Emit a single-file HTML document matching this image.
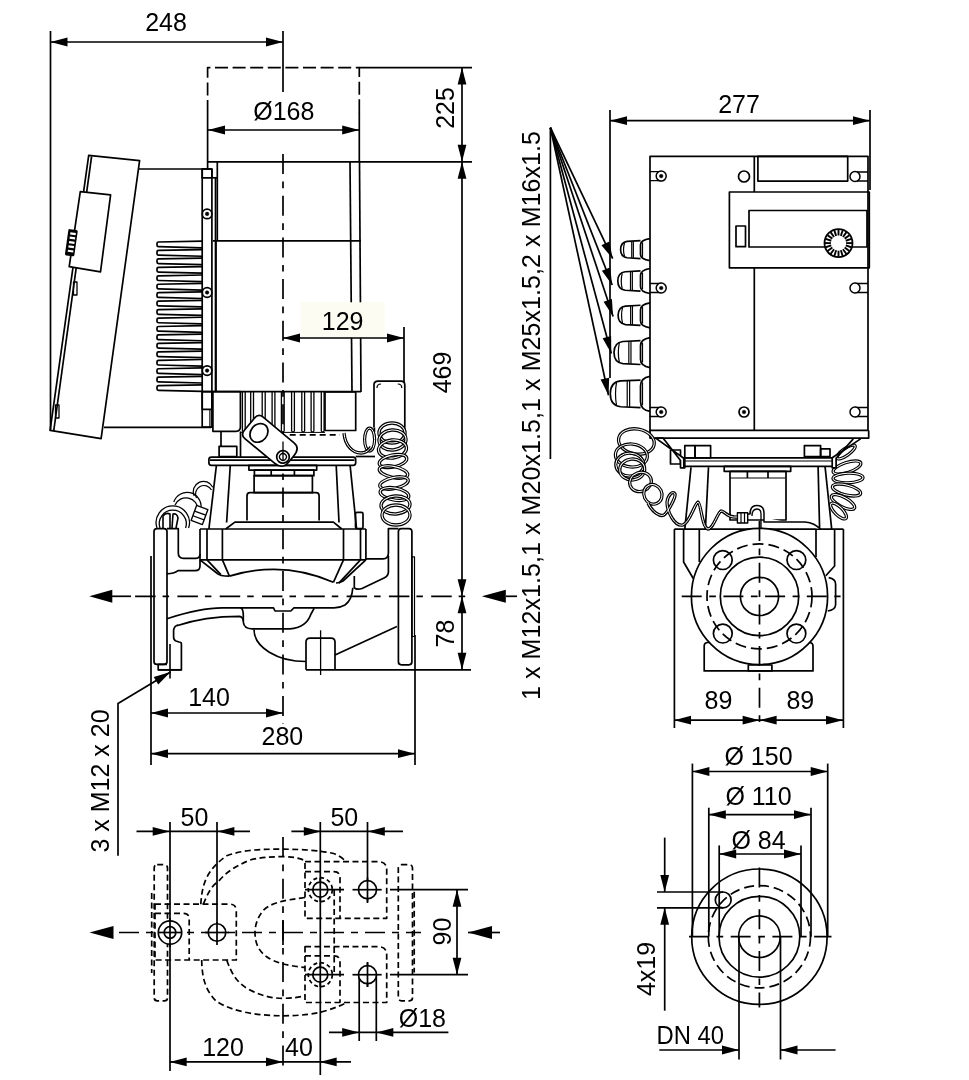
<!DOCTYPE html>
<html><head><meta charset="utf-8"><style>
html,body{margin:0;padding:0;background:#fff;}
svg{display:block;will-change:transform;}
text{font-family:"Liberation Sans",sans-serif;fill:#000;stroke:none;}
</style></head><body>
<svg width="969" height="1080" viewBox="0 0 969 1080">
<rect x="0" y="0" width="969" height="1080" fill="#fff"/>
<g fill="none" stroke="#000" stroke-width="1.7" stroke-linejoin="round">
<line x1="50.5" y1="31" x2="50.5" y2="430.4"/>
<line x1="50.5" y1="42" x2="283" y2="42"/>
<polygon points="50.50,42.00 67.50,37.60 67.50,46.40" fill="#000" stroke="none"/>
<polygon points="283.00,42.00 266.00,46.40 266.00,37.60" fill="#000" stroke="none"/>
<text x="166" y="31" font-size="25" text-anchor="middle">248</text>
<line x1="283" y1="31" x2="283" y2="92"/>
<line x1="283" y1="154" x2="283" y2="724" stroke-dasharray="20 7.5 6.7 7.5"/>
<polyline points="207.6,113 207.6,67.6 359.3,67.6 359.3,113" stroke-dasharray="13 4.6"/>
<line x1="207.6" y1="113" x2="207.6" y2="169"/>
<line x1="359.3" y1="112" x2="359.3" y2="161.8"/>
<line x1="359.2" y1="67.6" x2="472" y2="67.6"/>
<line x1="208" y1="130" x2="359.2" y2="130"/>
<polygon points="208.00,130.00 225.00,125.60 225.00,134.40" fill="#000" stroke="none"/>
<polygon points="359.20,130.00 342.20,134.40 342.20,125.60" fill="#000" stroke="none"/>
<text x="283.8" y="120" font-size="25" text-anchor="middle">Ø168</text>
<line x1="208" y1="161.8" x2="472" y2="161.8"/>
<line x1="462" y1="67.6" x2="462" y2="669.8"/>
<polygon points="462.00,67.60 466.40,84.60 457.60,84.60" fill="#000" stroke="none"/>
<polygon points="462.00,161.80 457.60,144.80 466.40,144.80" fill="#000" stroke="none"/>
<polygon points="462.00,161.80 466.40,178.80 457.60,178.80" fill="#000" stroke="none"/>
<polygon points="462.00,596.30 457.60,579.30 466.40,579.30" fill="#000" stroke="none"/>
<polygon points="462.00,596.30 466.40,613.30 457.60,613.30" fill="#000" stroke="none"/>
<polygon points="462.00,669.80 457.60,652.80 466.40,652.80" fill="#000" stroke="none"/>
<text x="453.5" y="108" font-size="25" text-anchor="middle" transform="rotate(-90 453.5 108)">225</text>
<text x="451.3" y="372.5" font-size="25" text-anchor="middle" transform="rotate(-90 451.3 372.5)">469</text>
<text x="453.5" y="633.5" font-size="25" text-anchor="middle" transform="rotate(-90 453.5 633.5)">78</text>
<line x1="158.2" y1="669.8" x2="181.4" y2="669.8"/>
<line x1="306" y1="669.8" x2="471" y2="669.8"/>
<line x1="110" y1="596.3" x2="131" y2="596.3"/>
<line x1="131" y1="596.3" x2="471" y2="596.3" stroke-dasharray="20.5 7 6.5 8.3" stroke-dashoffset="38.2"/>
<polygon points="89.30,596.30 112.30,589.80 112.30,602.80" fill="#000" stroke="none"/>
<line x1="506" y1="596.3" x2="517" y2="596.3"/>
<polygon points="481.80,596.30 481.80,596.30 481.80,596.30" fill="#000" stroke="none"/>
<polygon points="481.80,596.30 505.80,589.80 505.80,602.80" fill="#000" stroke="none"/>
<line x1="151" y1="556" x2="151" y2="765"/>
<line x1="415" y1="635" x2="415" y2="765"/>
<line x1="151" y1="713" x2="283" y2="713"/>
<polygon points="151.00,713.00 168.00,708.60 168.00,717.40" fill="#000" stroke="none"/>
<polygon points="283.00,713.00 266.00,717.40 266.00,708.60" fill="#000" stroke="none"/>
<text x="209" y="706" font-size="25" text-anchor="middle">140</text>
<line x1="151" y1="753.7" x2="415" y2="753.7"/>
<polygon points="151.00,753.70 168.00,749.30 168.00,758.10" fill="#000" stroke="none"/>
<polygon points="415.00,753.70 398.00,758.10 398.00,749.30" fill="#000" stroke="none"/>
<text x="282.4" y="745" font-size="25" text-anchor="middle">280</text>
<polyline points="118,855.7 118,703.5 170.5,672"/>
<polygon points="170.50,672.00 158.26,684.59 153.69,677.07" fill="#000" stroke="none"/>
<text x="109" y="781" font-size="25" text-anchor="middle" transform="rotate(-90 109 781)">3 x M12 x 20</text>
<polygon points="88.7,155.4 139.6,160.7 101.1,438.7 50.1,430.4"/>
<line x1="91.6" y1="156.3" x2="53.7" y2="431"/>
<polygon points="80.3,191.7 110.6,194.8 100.5,271.9 69.2,266.7" fill="#fff"/>
<g transform="rotate(8 71.6 242.7)"><rect x="66.6" y="229.5" width="9.5" height="26.5" rx="1.5" fill="#000" stroke="none"/><rect x="69" y="232.5" width="5.5" height="2.2" fill="#fff" stroke="none"/><rect x="69" y="236.9" width="5.5" height="2.2" fill="#fff" stroke="none"/><rect x="69" y="241.3" width="5.5" height="2.2" fill="#fff" stroke="none"/><rect x="69" y="245.7" width="5.5" height="2.2" fill="#fff" stroke="none"/><rect x="69" y="250.1" width="5.5" height="2.2" fill="#fff" stroke="none"/></g>
<line x1="139" y1="169" x2="211" y2="169"/>
<line x1="104" y1="427.4" x2="211" y2="427.4"/>
<path d="M202,241.20 L158.5,242.00 Q157,242.00 157,243.50 L157,245.20 Q157,246.70 158.5,246.70 L202,247.80"/>
<path d="M202,249.65 L158.5,250.45 Q157,250.45 157,251.95 L157,253.65 Q157,255.15 158.5,255.15 L202,256.25"/>
<path d="M202,258.10 L158.5,258.90 Q157,258.90 157,260.40 L157,262.10 Q157,263.60 158.5,263.60 L202,264.70"/>
<path d="M202,266.55 L158.5,267.35 Q157,267.35 157,268.85 L157,270.55 Q157,272.05 158.5,272.05 L202,273.15"/>
<path d="M202,275.00 L158.5,275.80 Q157,275.80 157,277.30 L157,279.00 Q157,280.50 158.5,280.50 L202,281.60"/>
<path d="M202,283.45 L158.5,284.25 Q157,284.25 157,285.75 L157,287.45 Q157,288.95 158.5,288.95 L202,290.05"/>
<path d="M202,291.90 L158.5,292.70 Q157,292.70 157,294.20 L157,295.90 Q157,297.40 158.5,297.40 L202,298.50"/>
<path d="M202,300.35 L158.5,301.15 Q157,301.15 157,302.65 L157,304.35 Q157,305.85 158.5,305.85 L202,306.95"/>
<path d="M202,308.80 L158.5,309.60 Q157,309.60 157,311.10 L157,312.80 Q157,314.30 158.5,314.30 L202,315.40"/>
<path d="M202,317.25 L158.5,318.05 Q157,318.05 157,319.55 L157,321.25 Q157,322.75 158.5,322.75 L202,323.85"/>
<path d="M202,325.70 L158.5,326.50 Q157,326.50 157,328.00 L157,329.70 Q157,331.20 158.5,331.20 L202,332.30"/>
<path d="M202,334.15 L158.5,334.95 Q157,334.95 157,336.45 L157,338.15 Q157,339.65 158.5,339.65 L202,340.75"/>
<path d="M202,342.60 L158.5,343.40 Q157,343.40 157,344.90 L157,346.60 Q157,348.10 158.5,348.10 L202,349.20"/>
<path d="M202,351.05 L158.5,351.85 Q157,351.85 157,353.35 L157,355.05 Q157,356.55 158.5,356.55 L202,357.65"/>
<path d="M202,359.50 L158.5,360.30 Q157,360.30 157,361.80 L157,363.50 Q157,365.00 158.5,365.00 L202,366.10"/>
<path d="M202,367.95 L158.5,368.75 Q157,368.75 157,370.25 L157,371.95 Q157,373.45 158.5,373.45 L202,374.55"/>
<path d="M202,376.40 L158.5,377.20 Q157,377.20 157,378.70 L157,380.40 Q157,381.90 158.5,381.90 L202,383.00"/>
<path d="M202,384.85 L158.5,385.65 Q157,385.65 157,387.15 L157,388.85 Q157,390.35 158.5,390.35 L202,391.45"/>
<rect x="202.2" y="169" width="9.700000000000017" height="258.2"/>
<rect x="202.2" y="169" width="9.700000000000017" height="8.800000000000011"/>
<line x1="215.5" y1="177.8" x2="215.5" y2="391.6"/>
<line x1="211.9" y1="177.8" x2="217.3" y2="177.8"/>
<rect x="202.2" y="391.6" width="9.700000000000017" height="17.799999999999955"/>
<line x1="209.9" y1="409.4" x2="209.9" y2="427.2" stroke-width="1.2"/>
<rect x="73.5" y="282" width="3.5" height="13" stroke-width="1.3"/>
<rect x="55.5" y="405" width="3.5" height="13" stroke-width="1.3"/>
<circle cx="207.1" cy="213.9" r="4.8" fill="#fff"/>
<circle cx="207.1" cy="213.9" r="1.8" stroke-width="0.5" fill="#000"/>
<circle cx="207.1" cy="292.5" r="4.8" fill="#fff"/>
<circle cx="207.1" cy="292.5" r="1.8" stroke-width="0.5" fill="#000"/>
<circle cx="207.1" cy="370.6" r="4.8" fill="#fff"/>
<circle cx="207.1" cy="370.6" r="1.8" stroke-width="0.5" fill="#000"/>
<line x1="217.3" y1="161.8" x2="217.3" y2="240.9"/>
<line x1="216" y1="240.9" x2="216" y2="391.6"/>
<line x1="350" y1="161.8" x2="352" y2="392"/>
<line x1="359.5" y1="161.8" x2="361" y2="392"/>
<line x1="213" y1="240.9" x2="361" y2="240.9"/>
<line x1="202.2" y1="391.6" x2="361" y2="391.6"/>
<rect x="301" y="302.3" width="84" height="35.5" fill="#fdfcf2" stroke="none"/>
<text x="342.6" y="329.6" font-size="25" text-anchor="middle">129</text>
<line x1="283" y1="338" x2="404" y2="338"/>
<polygon points="283.00,338.00 300.00,333.60 300.00,342.40" fill="#000" stroke="none"/>
<polygon points="404.00,338.00 387.00,342.40 387.00,333.60" fill="#000" stroke="none"/>
<line x1="404" y1="327" x2="404" y2="382"/>
<line x1="610" y1="110" x2="610" y2="378"/>
<line x1="870" y1="110" x2="870" y2="190"/>
<line x1="610" y1="120.7" x2="870" y2="120.7"/>
<polygon points="610.00,120.70 627.00,116.30 627.00,125.10" fill="#000" stroke="none"/>
<polygon points="870.00,120.70 853.00,125.10 853.00,116.30" fill="#000" stroke="none"/>
<text x="739" y="113" font-size="25" text-anchor="middle">277</text>
<rect x="650" y="156.3" width="218" height="274.09999999999997"/>
<polyline points="650,430.4 650,438.1 868.7,438.1 868.7,430.4"/>
<line x1="754.3" y1="156.3" x2="754.3" y2="192"/>
<line x1="754.3" y1="267.5" x2="754.3" y2="430.6"/>
<rect x="757.9" y="156.3" width="89.80000000000007" height="24.799999999999983"/>
<rect x="729.4" y="192" width="139.89999999999998" height="75.80000000000001"/>
<rect x="749" y="210.5" width="118" height="36.5"/>
<rect x="736" y="226" width="9.5" height="20.69999999999999"/>
<text x="540" y="700" font-size="25" text-anchor="start" textLength="569" lengthAdjust="spacing" transform="rotate(-90 540 700)">1 x M12x1.5,1 x M20x1.5,1 x M25x1.5,2 x M16x1.5</text>
<line x1="550.4" y1="127.7" x2="550.4" y2="459"/>
<line x1="550.4" y1="127.7" x2="612.7" y2="258.7"/>
<polygon points="612.70,258.70 601.43,245.24 609.37,241.46" fill="#000" stroke="none"/>
<line x1="550.4" y1="127.7" x2="612.2" y2="285"/>
<polygon points="612.20,285.00 601.89,270.79 610.08,267.57" fill="#000" stroke="none"/>
<line x1="550.4" y1="127.7" x2="613.1" y2="316.5"/>
<polygon points="613.10,316.50 603.57,301.75 611.92,298.98" fill="#000" stroke="none"/>
<line x1="550.4" y1="127.7" x2="611.3" y2="353.5"/>
<polygon points="611.30,353.50 602.62,338.23 611.12,335.94" fill="#000" stroke="none"/>
<line x1="550.4" y1="127.7" x2="608.5" y2="395.2"/>
<polygon points="608.50,395.20 600.59,379.52 609.19,377.65" fill="#000" stroke="none"/>
<line x1="674.4" y1="529.1" x2="674.4" y2="728"/>
<line x1="843.4" y1="529.1" x2="843.4" y2="728"/>
<line x1="674.4" y1="529.1" x2="843.4" y2="529.1"/>
<path d="M704.2,670.9 L704.2,646 Q704.2,642.5 708,642.5 L809,642.5 Q813,642.5 813,646 L813,670.9 Z"/>
<rect x="748.3" y="665" width="23.600000000000023" height="5.899999999999977"/>
<path d="M683.6,529.1 L683.6,562 L693.4,578.7"/>
<line x1="699.3" y1="529.1" x2="699.3" y2="562"/>
<line x1="816" y1="529.1" x2="816" y2="557"/>
<path d="M834.6,529.1 L834.6,566 L825.8,575.8 M828.7,577.7 Q835.6,579 835.6,584 L835.6,605 Q835,610 827.7,611"/>
<circle cx="759.5" cy="596.4" r="68.1" fill="#fff"/>
<circle cx="759.5" cy="596.4" r="52.5" stroke-dasharray="11 5"/>
<circle cx="759.5" cy="596.4" r="39.2"/>
<circle cx="759.5" cy="596.4" r="19.1"/>
<circle cx="722.8" cy="560.1" r="9.4"/>
<circle cx="796.4" cy="560.1" r="9.4"/>
<circle cx="722.8" cy="633.6" r="9.4"/>
<circle cx="796.4" cy="633.6" r="9.4"/>
<line x1="674" y1="720.2" x2="843" y2="720.2"/>
<polygon points="674.00,720.20 691.00,715.80 691.00,724.60" fill="#000" stroke="none"/>
<polygon points="759.60,720.20 742.60,724.60 742.60,715.80" fill="#000" stroke="none"/>
<polygon points="759.60,720.20 776.60,715.80 776.60,724.60" fill="#000" stroke="none"/>
<polygon points="843.00,720.20 826.00,724.60 826.00,715.80" fill="#000" stroke="none"/>
<text x="718.4" y="708.6" font-size="25" text-anchor="middle">89</text>
<text x="800.3" y="708.6" font-size="25" text-anchor="middle">89</text>
<line x1="119" y1="932.5" x2="421" y2="932.5" stroke-dasharray="20 7 7 7"/>
<line x1="468" y1="932.5" x2="500" y2="932.5"/>
<polygon points="89.50,932.50 113.50,926.00 113.50,939.00" fill="#000" stroke="none"/>
<polygon points="468.00,932.50 492.00,926.00 492.00,939.00" fill="#000" stroke="none"/>
<line x1="283" y1="837" x2="283" y2="1071" stroke-dasharray="20 7.5 6.7 7.5"/>
<line x1="170" y1="822" x2="170" y2="1071"/>
<line x1="217" y1="822" x2="217" y2="941"/>
<line x1="320.3" y1="822" x2="320.3" y2="1075"/>
<line x1="367.5" y1="822" x2="367.5" y2="903"/>
<line x1="367.5" y1="882" x2="367.5" y2="897"/>
<line x1="367.5" y1="962" x2="367.5" y2="987"/>
<line x1="136.5" y1="831.4" x2="250" y2="831.4"/>
<polygon points="169.70,831.40 152.70,835.80 152.70,827.00" fill="#000" stroke="none"/>
<polygon points="217.40,831.40 234.40,827.00 234.40,835.80" fill="#000" stroke="none"/>
<text x="194.5" y="826" font-size="25" text-anchor="middle">50</text>
<line x1="291.4" y1="831.4" x2="403" y2="831.4"/>
<polygon points="320.80,831.40 303.80,835.80 303.80,827.00" fill="#000" stroke="none"/>
<polygon points="367.80,831.40 384.80,827.00 384.80,835.80" fill="#000" stroke="none"/>
<text x="344.3" y="826" font-size="25" text-anchor="middle">50</text>
<line x1="390" y1="889.7" x2="468" y2="889.7"/>
<line x1="390" y1="974.7" x2="468" y2="974.7"/>
<line x1="457" y1="889.7" x2="457" y2="974.7"/>
<polygon points="457.00,889.70 461.40,906.70 452.60,906.70" fill="#000" stroke="none"/>
<polygon points="457.00,974.70 452.60,957.70 461.40,957.70" fill="#000" stroke="none"/>
<text x="451" y="931.5" font-size="25" text-anchor="middle" transform="rotate(-90 451 931.5)">90</text>
<line x1="359.2" y1="974.7" x2="359.2" y2="1041"/>
<line x1="376.3" y1="974.7" x2="376.3" y2="1041"/>
<line x1="329" y1="1032.4" x2="448.4" y2="1032.4"/>
<polygon points="359.20,1032.40 342.20,1036.80 342.20,1028.00" fill="#000" stroke="none"/>
<polygon points="376.30,1032.40 393.30,1028.00 393.30,1036.80" fill="#000" stroke="none"/>
<text x="422.4" y="1027" font-size="25" text-anchor="middle">Ø18</text>
<line x1="169.7" y1="1061.9" x2="351" y2="1061.9"/>
<polygon points="169.70,1061.90 186.70,1057.50 186.70,1066.30" fill="#000" stroke="none"/>
<polygon points="283.00,1061.90 266.00,1066.30 266.00,1057.50" fill="#000" stroke="none"/>
<polygon points="319.70,1061.90 336.70,1057.50 336.70,1066.30" fill="#000" stroke="none"/>
<text x="223" y="1056" font-size="25" text-anchor="middle">120</text>
<text x="298.9" y="1056" font-size="25" text-anchor="middle">40</text>
<rect x="154.2" y="864.7" width="13.300000000000011" height="136.0999999999999" rx="3" stroke-dasharray="6 3.5"/>
<line x1="151.7" y1="893" x2="151.7" y2="973" stroke-dasharray="6 3.5"/>
<rect x="398.3" y="864.7" width="14.199999999999989" height="136.0999999999999" rx="3" stroke-dasharray="6 3.5"/>
<line x1="414.2" y1="891.7" x2="414.2" y2="972.5" stroke-dasharray="6 3.5"/>
<path d="M155,904.2 L230,904.2 Q236.3,904.2 236.3,911 L236.3,960 L155,960 Z" stroke-dasharray="6 3.5"/>
<path d="M155,913.3 L183,913.3 Q189.2,913.3 189.2,919 L189.2,960" stroke-dasharray="6 3.5"/>
<path d="M200.8,904.2 C202,885 206,870 226.7,855.8 C245,849 265,849.2 283,849.2 C305,849.2 325,851 335,854 C342,857 344,860 346.7,861.7" stroke-dasharray="6 3.5"/>
<path d="M203.3,904.2 C208,893 212,885 218.3,881.7 C226,872 236,866 250,860 C262,857 272,856.7 283,856.7 C292,856.7 300,858 305,860.8" stroke-dasharray="6 3.5"/>
<path d="M201.7,960 C202,975 204,988 215,1000 C230,1012 260,1015.8 283,1015.8 C300,1015.8 315,1014 325,1011 C338,1007 344,1004 346.7,1002.5" stroke-dasharray="6 3.5"/>
<path d="M226.7,960 C232,975 238,984 250,990 C262,996 272,998.3 283,998.3 C292,998.3 300,997 305,995.8" stroke-dasharray="6 3.5"/>
<path d="M305,897.5 C285,900 268.3,903 262,912 C256,920 255,928 255,932.5 C255,945 260,952 266.7,956.7 C275,963 290,966 305,967.5" stroke-dasharray="6 3.5"/>
<path d="M305,861.7 L378,861.7 Q386.7,861.7 386.7,869.7 L386.7,918.3 L305,918.3 Z" stroke-dasharray="6 3.5"/>
<path d="M305,871.7 L334,871.7 Q340,871.7 340,877.7 L340,918.3" stroke-dasharray="6 3.5"/>
<path d="M305,946.7 L378,946.7 Q386.7,946.7 386.7,954.7 L386.7,1002.5 L305,1002.5 Z" stroke-dasharray="6 3.5"/>
<path d="M305,955.8 L334,955.8 Q340,955.8 340,961.8 L340,1002.5" stroke-dasharray="6 3.5"/>
<line x1="334.2" y1="890" x2="334.2" y2="973.3" stroke-dasharray="6 3.5"/>
<circle cx="320.3" cy="889.7" r="12" stroke-dasharray="4 3"/>
<circle cx="320.3" cy="974.7" r="12" stroke-dasharray="4 3"/>
<circle cx="759.4" cy="936.7" r="67.7"/>
<circle cx="759.4" cy="936.7" r="51.1" stroke-dasharray="10 5"/>
<circle cx="759.4" cy="936.7" r="40.4"/>
<circle cx="759.4" cy="936.7" r="20.8"/>
<circle cx="723.2" cy="899.9" r="7.9"/>
<line x1="692.4" y1="763.6" x2="692.4" y2="936.7"/>
<line x1="827.7" y1="763.6" x2="827.7" y2="936.7"/>
<line x1="692.4" y1="771.5" x2="827.7" y2="771.5"/>
<polygon points="692.40,771.50 709.40,767.10 709.40,775.90" fill="#000" stroke="none"/>
<polygon points="827.70,771.50 810.70,775.90 810.70,767.10" fill="#000" stroke="none"/>
<text x="758.5" y="765.2" font-size="25" text-anchor="middle">Ø 150</text>
<line x1="708.8" y1="807.7" x2="708.8" y2="936.7"/>
<line x1="811" y1="807.7" x2="811" y2="936.7"/>
<line x1="708.8" y1="814.6" x2="811" y2="814.6"/>
<polygon points="708.80,814.60 725.80,810.20 725.80,819.00" fill="#000" stroke="none"/>
<polygon points="811.00,814.60 794.00,819.00 794.00,810.20" fill="#000" stroke="none"/>
<text x="758.5" y="804.5" font-size="25" text-anchor="middle">Ø 110</text>
<line x1="719.2" y1="845.4" x2="719.2" y2="936.7"/>
<line x1="801" y1="845.4" x2="801" y2="936.7"/>
<line x1="719.2" y1="854" x2="801" y2="854"/>
<polygon points="719.20,854.00 736.20,849.60 736.20,858.40" fill="#000" stroke="none"/>
<polygon points="801.00,854.00 784.00,858.40 784.00,849.60" fill="#000" stroke="none"/>
<text x="758.5" y="848.6" font-size="25" text-anchor="middle">Ø 84</text>
<line x1="657" y1="892" x2="723" y2="892"/>
<line x1="657" y1="907.8" x2="723" y2="907.8"/>
<line x1="664.7" y1="837.6" x2="664.7" y2="892"/>
<polygon points="664.70,892.00 660.30,875.00 669.10,875.00" fill="#000" stroke="none"/>
<line x1="664.7" y1="907.8" x2="664.7" y2="1010.7"/>
<polygon points="664.70,907.80 669.10,924.80 660.30,924.80" fill="#000" stroke="none"/>
<text x="655" y="969" font-size="25" text-anchor="middle" transform="rotate(-90 655 969)">4x19</text>
<line x1="739" y1="936.7" x2="739" y2="1059.5"/>
<line x1="780.5" y1="936.7" x2="780.5" y2="1059.5"/>
<line x1="659.3" y1="1050" x2="739" y2="1050"/>
<polygon points="739.00,1050.00 722.00,1054.40 722.00,1045.60" fill="#000" stroke="none"/>
<line x1="780.5" y1="1050" x2="835.6" y2="1050"/>
<polygon points="780.50,1050.00 797.50,1045.60 797.50,1054.40" fill="#000" stroke="none"/>
<text x="656.5" y="1043.7" font-size="25" textLength="67.5" lengthAdjust="spacingAndGlyphs">DN 40</text>
<line x1="689" y1="936.7" x2="831.5" y2="936.7" stroke-dasharray="20 7.5 6.7 7.5"/>
<line x1="759.4" y1="867.5" x2="759.4" y2="1007.5" stroke-dasharray="20 7.5 6.7 7.5"/>
<path d="M212.9,391.6 L240.4,391.6 L240.4,427 Q240.4,431.3 236,431.3 L212.9,431.3 Z"/>
<path d="M242.4,392 L242.4,431 Q243.8,433 245.2,431 L245.2,392" stroke-width="1.3"/>
<path d="M250.7,392 L250.7,431 Q252.1,433 253.5,431 L253.5,392" stroke-width="1.3"/>
<path d="M262.2,392 L262.2,431 Q263.7,433 265.2,431 L265.2,392" stroke-width="1.3"/>
<path d="M272.1,392 L272.1,431 Q273.5,433 274.9,431 L274.9,392" stroke-width="1.3"/>
<path d="M281.4,392 L281.4,431 Q282.79999999999995,433 284.2,431 L284.2,392" stroke-width="1.3"/>
<path d="M291.6,392 L291.6,431 Q293.0,433 294.4,431 L294.4,392" stroke-width="1.3"/>
<path d="M301.8,392 L301.8,431 Q303.20000000000005,433 304.6,431 L304.6,392" stroke-width="1.3"/>
<path d="M311.1,392 L311.1,431 Q312.5,433 313.9,431 L313.9,392" stroke-width="1.3"/>
<path d="M321.3,392 L321.3,431 Q322.70000000000005,433 324.1,431 L324.1,392" stroke-width="1.3"/>
<rect x="325" y="392" width="30.69999999999999" height="38.5"/>
<line x1="240.5" y1="432.4" x2="325" y2="432.4" stroke-width="1.0"/>
<line x1="289.7" y1="434.8" x2="339.9" y2="434.8" stroke-dasharray="6 4"/>
<line x1="221" y1="431.4" x2="221" y2="446.3"/>
<line x1="240.5" y1="431.4" x2="240.5" y2="457"/>
<rect x="219.1" y="446.3" width="17.700000000000017" height="10.199999999999989"/>
<rect x="208.9" y="457.1" width="146.79999999999998" height="8.199999999999989" rx="2.5"/>
<line x1="210" y1="460.2" x2="354.5" y2="460.2"/>
<rect x="248.9" y="465.3" width="67.79999999999998" height="4.800000000000011"/>
<rect x="254.4" y="470.1" width="59.49999999999997" height="5.599999999999966"/>
<line x1="271.2" y1="470.1" x2="271.2" y2="475.7"/>
<line x1="294.4" y1="470.1" x2="294.4" y2="475.7"/>
<rect x="254.1" y="475.7" width="58.29999999999998" height="17.0"/>
<path d="M247,520.6 L247,496 Q247,492.7 250,492.7 L316,492.7 Q319.1,492.7 319.1,496 L319.1,520.6"/>
<polyline points="225.7,529 234.9,522.1 333.4,522.1 341.8,529"/>
<line x1="216.4" y1="465.3" x2="208.9" y2="529"/>
<line x1="230.3" y1="465.3" x2="226.6" y2="522.5"/>
<line x1="336.2" y1="465.3" x2="339" y2="522.5"/>
<line x1="350.1" y1="465.3" x2="356.6" y2="529"/>
<g transform="translate(270.4,441.5) rotate(39.7)"><path d="M-21.5,-14.1 L19,-14.1 Q27.2,-14.1 27.2,-4 L27.2,4 Q27.2,14.1 17,14.1 L-21.5,14.1 Q-27.2,14.1 -27.2,8 L-27.2,-8 Q-27.2,-14.1 -21.5,-14.1 Z" fill="#fff"/><ellipse cx="-14.3" cy="0.7" rx="8.3" ry="10"/><circle cx="19.5" cy="3.8" r="6.3"/><circle cx="19.5" cy="3.8" r="3.4" stroke-width="1.3"/></g>
<line x1="283" y1="441.4" x2="283" y2="461.1" stroke-width="1.3"/>
<path d="M374,427.5 L374,385 Q374,381.2 378,381.2 L401,381.2 Q404.8,381.2 404.8,385 L404.8,427.5"/>
<path d="M377,388 q0,-4 4,-4 M401.8,388 q0,-4 -4,-4" stroke-width="1.2"/>
<line x1="374.4" y1="427.5" x2="374.4" y2="432"/>
<line x1="404.8" y1="427.5" x2="404.8" y2="432"/>
<ellipse cx="369.6" cy="439.6" rx="5" ry="11.5" stroke-width="3.2"/><ellipse cx="369.6" cy="439.6" rx="5" ry="11.5" stroke="#fff" stroke-width="1"/>
<ellipse cx="392" cy="433" rx="13" ry="10" transform="rotate(0 392 433)" stroke-width="3.4"/>
<ellipse cx="392" cy="433" rx="13" ry="10" transform="rotate(0 392 433)" stroke="#fff" stroke-width="1.1"/>
<ellipse cx="392.5" cy="440" rx="13.5" ry="10" transform="rotate(-4 392.5 440)" stroke-width="3.4"/>
<ellipse cx="392.5" cy="440" rx="13.5" ry="10" transform="rotate(-4 392.5 440)" stroke="#fff" stroke-width="1.1"/>
<ellipse cx="392.5" cy="449" rx="14" ry="9" transform="rotate(-6 392.5 449)" stroke-width="3.4"/>
<ellipse cx="392.5" cy="449" rx="14" ry="9" transform="rotate(-6 392.5 449)" stroke="#fff" stroke-width="1.1"/>
<ellipse cx="393" cy="461" rx="14" ry="6" transform="rotate(-12 393 461)" stroke-width="3.4"/>
<ellipse cx="393" cy="461" rx="14" ry="6" transform="rotate(-12 393 461)" stroke="#fff" stroke-width="1.1"/>
<ellipse cx="393.5" cy="472" rx="14.5" ry="5.5" transform="rotate(12 393.5 472)" stroke-width="3.4"/>
<ellipse cx="393.5" cy="472" rx="14.5" ry="5.5" transform="rotate(12 393.5 472)" stroke="#fff" stroke-width="1.1"/>
<ellipse cx="394" cy="483" rx="14.5" ry="5.5" transform="rotate(-12 394 483)" stroke-width="3.4"/>
<ellipse cx="394" cy="483" rx="14.5" ry="5.5" transform="rotate(-12 394 483)" stroke="#fff" stroke-width="1.1"/>
<ellipse cx="394.5" cy="494" rx="14.5" ry="6" transform="rotate(10 394.5 494)" stroke-width="3.4"/>
<ellipse cx="394.5" cy="494" rx="14.5" ry="6" transform="rotate(10 394.5 494)" stroke="#fff" stroke-width="1.1"/>
<ellipse cx="395.5" cy="505" rx="14.5" ry="9" transform="rotate(-4 395.5 505)" stroke-width="3.4"/>
<ellipse cx="395.5" cy="505" rx="14.5" ry="9" transform="rotate(-4 395.5 505)" stroke="#fff" stroke-width="1.1"/>
<ellipse cx="396" cy="515" rx="14" ry="10" transform="rotate(0 396 515)" stroke-width="3.4"/>
<ellipse cx="396" cy="515" rx="14" ry="10" transform="rotate(0 396 515)" stroke="#fff" stroke-width="1.1"/>
<line x1="355.7" y1="456.5" x2="375" y2="456.5"/>
<line x1="352" y1="434.8" x2="372" y2="434.8" stroke-width="0"/>
<rect x="154" y="528.6" width="13" height="135.79999999999995" rx="3"/>
<rect x="398.4" y="528.6" width="13.5" height="136.19999999999993" rx="3"/>
<rect x="411.9" y="556.8" width="2.6000000000000227" height="79.70000000000005" stroke-width="1.2"/>
<path d="M167,528.6 L178.3,528.6 L178.3,553 Q178.3,558.3 183.5,558.3 L196,558.3 Q200,558.3 200,554"/>
<path d="M200,559.9 L200,566 Q200,570.7 195,570.7 L178,570.7 Q174,573.8 167,573.8"/>
<line x1="200" y1="529" x2="365.9" y2="529"/>
<line x1="200" y1="559.9" x2="365.9" y2="559.9"/>
<line x1="200" y1="529" x2="200" y2="559.9"/>
<line x1="207" y1="529" x2="207" y2="559.9"/>
<line x1="222.4" y1="529" x2="222.4" y2="559.9"/>
<line x1="343.5" y1="529" x2="343.5" y2="559.9"/>
<line x1="360.5" y1="529" x2="360.5" y2="559.9"/>
<line x1="365.9" y1="529" x2="365.9" y2="559.9"/>
<path d="M200,559.9 L218,574 Q221,576 225,576 L229.4,576.1"/>
<line x1="207" y1="559.9" x2="220.9" y2="574.6"/>
<line x1="222.4" y1="559.9" x2="229.4" y2="576.1"/>
<line x1="343.5" y1="559.9" x2="333.4" y2="582.3"/>
<line x1="360.5" y1="559.9" x2="338.8" y2="583.1"/>
<path d="M365.9,559.9 L343,581 Q340,583 336,583"/>
<path d="M229.4,576.1 Q283,560 333.4,582.3"/>
<rect x="355.5" y="512.4" width="7.5" height="16.200000000000045" rx="1.5"/>
<path d="M398.4,528.6 L388.4,528.6 L388.4,553 Q388.4,558.8 383,558.8 L366,558.8"/>
<path d="M388.4,556 L388.4,572 Q388.4,576 384,578 L362,588.5 Q357,590 354.3,587.8 L354.3,576.1"/>
<path d="M352.8,587.8 Q352,600 345,605 Q340,607.9 334,607.9 L293.9,607.9 L290.8,611 L275,611 L273.5,607.9 L241,607.9 Q243.3,609 243.3,615.6 L243.3,622 Q244,628.8 252,628.8 L290,628.8 Q306,628 311,614 L314,608.7"/>
<path d="M167,618.7 Q200,608 222.4,607.9 L241,607.9"/>
<path d="M176.7,625.7 Q205,616.4 239.4,616.4 Q243,617 243.3,621"/>
<path d="M167,664.4 L158.2,664.4 L158.2,669.8 L181.4,669.8 L181.4,644 Q181.4,642 179,642 L176,641 Q173.6,640 173.6,637 L173.6,630 Q174.4,625.7 178,625"/>
<path d="M254,629.6 A52,32 0 0 0 306,661.5"/>
<path d="M306,669.8 L306,642 Q306,638.1 310,638.1 L331,638.1 Q335,638.1 335,642 L335,669.8"/>
<line x1="396.9" y1="626.5" x2="335" y2="655.1"/>
<line x1="170" y1="644" x2="170" y2="678.6" stroke-width="1.6"/>
<line x1="320.6" y1="630.3" x2="320.6" y2="675" stroke-width="1.3"/>
<path d="M649.6,171.6 L661.2,171.6 M649.6,180.6 L661.2,180.6" stroke-width="1.4"/>
<circle cx="661.2" cy="176.1" r="5" stroke-width="1.5" fill="#fff"/>
<circle cx="661.2" cy="176.1" r="1.8" stroke-width="0.5" fill="#000"/>
<path d="M649.6,283.5 L661.2,283.5 M649.6,292.5 L661.2,292.5" stroke-width="1.4"/>
<circle cx="661.2" cy="288" r="5" stroke-width="1.5" fill="#fff"/>
<circle cx="661.2" cy="288" r="1.8" stroke-width="0.5" fill="#000"/>
<path d="M649.6,407.5 L661.2,407.5 M649.6,416.5 L661.2,416.5" stroke-width="1.4"/>
<circle cx="661.2" cy="412" r="5" stroke-width="1.5" fill="#fff"/>
<circle cx="661.2" cy="412" r="1.8" stroke-width="0.5" fill="#000"/>
<circle cx="744" cy="176.5" r="5.5"/>
<circle cx="744" cy="412" r="5"/>
<circle cx="744" cy="412" r="1.8" stroke-width="0.5" fill="#000"/>
<path d="M868,172.0 L855,172.0 M868,181.0 L855,181.0" stroke-width="1.4"/>
<circle cx="855" cy="176.5" r="5" stroke-width="1.5" fill="#fff"/>
<path d="M868,283.5 L855,283.5 M868,292.5 L855,292.5" stroke-width="1.4"/>
<circle cx="855" cy="288" r="5" stroke-width="1.5" fill="#fff"/>
<path d="M868,407.5 L855,407.5 M868,416.5 L855,416.5" stroke-width="1.4"/>
<circle cx="855" cy="412" r="5" stroke-width="1.5" fill="#fff"/>
<circle cx="838.5" cy="243.1" r="14" stroke-width="1.8" fill="#fff"/>
<line x1="846.1" y1="243.1" x2="852.0" y2="243.1" stroke-width="1.9"/>
<line x1="845.7280295238431" y1="245.4485291572496" x2="851.3392629699846" y2="247.2717294240618" stroke-width="1.9"/>
<line x1="844.6485291572496" y1="247.56716791742278" x2="849.4217294240618" y2="251.03510090594838" stroke-width="1.9"/>
<line x1="842.9671679174228" y1="249.2485291572496" x2="846.4351009059484" y2="254.0217294240618" stroke-width="1.9"/>
<line x1="840.8485291572496" y1="250.32802952384316" x2="842.6717294240618" y2="255.93926296998455" stroke-width="1.9"/>
<line x1="838.5" y1="250.7" x2="838.5" y2="256.6" stroke-width="1.9"/>
<line x1="836.1514708427504" y1="250.32802952384316" x2="834.3282705759382" y2="255.93926296998455" stroke-width="1.9"/>
<line x1="834.0328320825772" y1="249.2485291572496" x2="830.5648990940516" y2="254.0217294240618" stroke-width="1.9"/>
<line x1="832.3514708427504" y1="247.56716791742278" x2="827.5782705759382" y2="251.03510090594838" stroke-width="1.9"/>
<line x1="831.2719704761569" y1="245.4485291572496" x2="825.6607370300154" y2="247.2717294240618" stroke-width="1.9"/>
<line x1="830.9" y1="243.1" x2="825.0" y2="243.1" stroke-width="1.9"/>
<line x1="831.2719704761569" y1="240.7514708427504" x2="825.6607370300154" y2="238.9282705759382" stroke-width="1.9"/>
<line x1="832.3514708427504" y1="238.6328320825772" x2="827.5782705759382" y2="235.1648990940516" stroke-width="1.9"/>
<line x1="834.0328320825772" y1="236.95147084275038" x2="830.5648990940516" y2="232.1782705759382" stroke-width="1.9"/>
<line x1="836.1514708427504" y1="235.87197047615683" x2="834.3282705759382" y2="230.26073703001543" stroke-width="1.9"/>
<line x1="838.5" y1="235.5" x2="838.5" y2="229.6" stroke-width="1.9"/>
<line x1="840.8485291572496" y1="235.87197047615683" x2="842.6717294240618" y2="230.26073703001543" stroke-width="1.9"/>
<line x1="842.9671679174228" y1="236.95147084275038" x2="846.4351009059484" y2="232.1782705759382" stroke-width="1.9"/>
<line x1="844.6485291572496" y1="238.6328320825772" x2="849.4217294240618" y2="235.1648990940516" stroke-width="1.9"/>
<line x1="845.7280295238431" y1="240.7514708427504" x2="851.3392629699846" y2="238.9282705759382" stroke-width="1.9"/>
<path d="M650,238.6 Q640.5,240.1 640.5,244.76 L640.5,254.44 Q640.5,259.1 650,260.6"/>
<line x1="642.5" y1="242.34" x2="642.5" y2="256.86" stroke-width="1.2"/>
<path d="M640.5,240.65999999999997 L627.1120000000001,241.45999999999998 Q620.6,242.45999999999998 620.6,249.6 Q620.6,256.74 627.1120000000001,257.74 L640.5,258.54"/>
<path d="M624.5072,242.95999999999998 Q622.5072,249.6 624.5072,256.24" stroke-width="1.2"/>
<line x1="631.744" y1="241.45999999999998" x2="631.744" y2="257.74" stroke-width="1.2"/>
<line x1="633.336" y1="241.45999999999998" x2="633.336" y2="257.74" stroke-width="1.2"/>
<path d="M650,268.5 Q640.5,270.0 640.5,275.5 L640.5,286.5 Q640.5,292.0 650,293.5"/>
<line x1="642.5" y1="272.75" x2="642.5" y2="289.25" stroke-width="1.2"/>
<path d="M640.5,270.95 L625.1999999999999,271.75 Q617.8,272.75 617.8,281 Q617.8,289.25 625.1999999999999,290.25 L640.5,291.05"/>
<path d="M622.24,273.25 Q620.24,281 622.24,288.75" stroke-width="1.2"/>
<line x1="630.512" y1="271.75" x2="630.512" y2="290.25" stroke-width="1.2"/>
<line x1="632.328" y1="271.75" x2="632.328" y2="290.25" stroke-width="1.2"/>
<path d="M650,302.8 Q640.5,304.3 640.5,309.8 L640.5,320.8 Q640.5,326.3 650,327.8"/>
<line x1="642.5" y1="307.05" x2="642.5" y2="323.55" stroke-width="1.2"/>
<path d="M640.5,305.25 L625.5,306.05 Q618.1,307.05 618.1,315.3 Q618.1,323.55 625.5,324.55 L640.5,325.35"/>
<path d="M622.5400000000001,307.55 Q620.5400000000001,315.3 622.5400000000001,323.05" stroke-width="1.2"/>
<line x1="630.644" y1="306.05" x2="630.644" y2="324.55" stroke-width="1.2"/>
<line x1="632.436" y1="306.05" x2="632.436" y2="324.55" stroke-width="1.2"/>
<path d="M650,337.6 Q640.5,339.1 640.5,346.0 L640.5,359.20000000000005 Q640.5,366.1 650,367.6"/>
<line x1="642.5" y1="342.70000000000005" x2="642.5" y2="362.5" stroke-width="1.2"/>
<path d="M640.5,340.7 L622.88,341.5 Q614,342.5 614,352.6 Q614,362.70000000000005 622.88,363.70000000000005 L640.5,364.50000000000006"/>
<path d="M619.328,343.0 Q617.328,352.6 619.328,362.20000000000005" stroke-width="1.2"/>
<line x1="628.84" y1="341.5" x2="628.84" y2="363.70000000000005" stroke-width="1.2"/>
<line x1="630.96" y1="341.5" x2="630.96" y2="363.70000000000005" stroke-width="1.2"/>
<path d="M650,376.3 Q640.5,377.8 640.5,386.1 L640.5,401.5 Q640.5,409.8 650,411.3"/>
<line x1="642.5" y1="382.25" x2="642.5" y2="405.35" stroke-width="1.2"/>
<path d="M640.5,380.05 L620.66,380.85 Q610.3,381.85 610.3,393.8 Q610.3,405.75 620.66,406.75 L640.5,407.55"/>
<path d="M616.516,382.35 Q614.516,393.8 616.516,405.25" stroke-width="1.2"/>
<line x1="627.212" y1="380.85" x2="627.212" y2="406.75" stroke-width="1.2"/>
<line x1="629.6279999999999" y1="380.85" x2="629.6279999999999" y2="406.75" stroke-width="1.2"/>
<rect x="670.5" y="450" width="10.0" height="14"/>
<polygon points="655.7,438.1 684.8,459 684.8,467.8 680.5,467.8 680.5,460.5 663,438.1" fill="#fff"/>
<rect x="820.6" y="448.9" width="9.399999999999977" height="7.800000000000011"/>
<rect x="683.8" y="457.8" width="151.70000000000005" height="8.599999999999966"/>
<line x1="683.8" y1="461" x2="835.5" y2="461" stroke-width="1.2"/>
<rect x="684.8" y="445.6" width="10.200000000000045" height="12.199999999999989"/>
<rect x="695" y="445.6" width="15.600000000000023" height="12.199999999999989"/>
<rect x="804.4" y="445.6" width="16.200000000000045" height="11.099999999999966"/>
<rect x="724.2" y="466.4" width="66.5" height="4.900000000000034"/>
<rect x="730" y="471.3" width="56" height="48.69999999999999"/>
<line x1="747.4" y1="471.3" x2="747.4" y2="478"/>
<line x1="768" y1="471.3" x2="768" y2="478"/>
<line x1="730" y1="478" x2="785" y2="478" stroke-width="1.2"/>
<line x1="691" y1="467.3" x2="684.8" y2="529.1"/>
<line x1="708.5" y1="467.3" x2="705.4" y2="529.1"/>
<line x1="818.1" y1="466.4" x2="819.6" y2="529.1"/>
<line x1="825" y1="466.1" x2="831.7" y2="529.1"/>
<rect x="737.4" y="512.7" width="10.300000000000068" height="10.299999999999955" stroke-width="1.4" fill="#fff"/>
<line x1="741" y1="512.7" x2="741" y2="523" stroke-width="1.2"/>
<line x1="744.5" y1="512.7" x2="744.5" y2="523" stroke-width="1.2"/>
<path d="M747.7,514 L750,514 Q750,505.5 757,505.5 Q764,505.5 764,513 L764,522 L767,522 L805,522 Q815,523 820,529" stroke-width="1.5" fill="#fff"/>
<path d="M752,516 Q752,509 757,509 Q761,509 761,514 L761,528" stroke-width="1.3"/>
<line x1="759.5" y1="522" x2="759.5" y2="529" stroke-width="1.3"/>
<ellipse cx="636.4" cy="441.5" rx="18" ry="12.5" transform="rotate(10 636.4 441.5)" stroke-width="3.3"/>
<ellipse cx="636.4" cy="441.5" rx="18" ry="12.5" transform="rotate(10 636.4 441.5)" stroke="#fff" stroke-width="1.0"/>
<ellipse cx="631.4" cy="455.5" rx="16" ry="11.5" transform="rotate(5 631.4 455.5)" stroke-width="3.3"/>
<ellipse cx="631.4" cy="455.5" rx="16" ry="11.5" transform="rotate(5 631.4 455.5)" stroke="#fff" stroke-width="1.0"/>
<ellipse cx="629.8" cy="464.6" rx="14" ry="11.5" transform="rotate(0 629.8 464.6)" stroke-width="3.3"/>
<ellipse cx="629.8" cy="464.6" rx="14" ry="11.5" transform="rotate(0 629.8 464.6)" stroke="#fff" stroke-width="1.0"/>
<ellipse cx="632.2" cy="469.5" rx="12.5" ry="10.5" transform="rotate(-5 632.2 469.5)" stroke-width="3.3"/>
<ellipse cx="632.2" cy="469.5" rx="12.5" ry="10.5" transform="rotate(-5 632.2 469.5)" stroke="#fff" stroke-width="1.0"/>
<ellipse cx="640.5" cy="481.9" rx="11" ry="9.5" transform="rotate(-20 640.5 481.9)" stroke-width="3.3"/>
<ellipse cx="640.5" cy="481.9" rx="11" ry="9.5" transform="rotate(-20 640.5 481.9)" stroke="#fff" stroke-width="1.0"/>
<ellipse cx="652.9" cy="494.3" rx="9" ry="10" transform="rotate(-25 652.9 494.3)" stroke-width="3.3"/>
<ellipse cx="652.9" cy="494.3" rx="9" ry="10" transform="rotate(-25 652.9 494.3)" stroke="#fff" stroke-width="1.0"/>
<path d="M648,503 C652,512 660,517 664,515 C668,512 676,497 675,494 C673,490 668,495 667,502 C667,512 675,527 683,525 C690,522 695,503 698,502 C701,503 702,528 708,529 C713,529 718,512 721,511 C725,511 727,518 737,517" stroke-width="3.3"/>
<path d="M648,503 C652,512 660,517 664,515 C668,512 676,497 675,494 C673,490 668,495 667,502 C667,512 675,527 683,525 C690,522 695,503 698,502 C701,503 702,528 708,529 C713,529 718,512 721,511 C725,511 727,518 737,517" stroke="#fff" stroke-width="1.0"/>
<ellipse cx="846" cy="452" rx="11" ry="3.5" transform="rotate(-35 846 452)" stroke-width="3.3"/>
<ellipse cx="846" cy="452" rx="11" ry="3.5" transform="rotate(-35 846 452)" stroke="#fff" stroke-width="1.0"/>
<ellipse cx="847" cy="467.5" rx="14.5" ry="5" transform="rotate(-18 847 467.5)" stroke-width="3.3"/>
<ellipse cx="847" cy="467.5" rx="14.5" ry="5" transform="rotate(-18 847 467.5)" stroke="#fff" stroke-width="1.0"/>
<ellipse cx="848" cy="478" rx="15" ry="4.8" transform="rotate(-2 848 478)" stroke-width="3.3"/>
<ellipse cx="848" cy="478" rx="15" ry="4.8" transform="rotate(-2 848 478)" stroke="#fff" stroke-width="1.0"/>
<ellipse cx="846.5" cy="490" rx="14.5" ry="5" transform="rotate(14 846.5 490)" stroke-width="3.3"/>
<ellipse cx="846.5" cy="490" rx="14.5" ry="5" transform="rotate(14 846.5 490)" stroke="#fff" stroke-width="1.0"/>
<ellipse cx="843" cy="502" rx="13" ry="4.8" transform="rotate(28 843 502)" stroke-width="3.3"/>
<ellipse cx="843" cy="502" rx="13" ry="4.8" transform="rotate(28 843 502)" stroke="#fff" stroke-width="1.0"/>
<ellipse cx="838.5" cy="511" rx="10.5" ry="4" transform="rotate(45 838.5 511)" stroke-width="3.3"/>
<ellipse cx="838.5" cy="511" rx="10.5" ry="4" transform="rotate(45 838.5 511)" stroke="#fff" stroke-width="1.0"/>
<polyline points="860.6,438.9 832.2,457.8 832.2,467.8 836.1,467.8 836.1,458.3 853.3,438.9" fill="#fff"/>
<line x1="759.5" y1="521" x2="759.5" y2="729.4" stroke-dasharray="20 7.5 6.7 7.5"/>
<line x1="681.7" y1="596.4" x2="840.6" y2="596.4" stroke-dasharray="20 7.5 6.7 7.5"/>
<circle cx="170" cy="932.5" r="11.7" fill="#fff"/>
<circle cx="170" cy="932.5" r="5.8"/>
<circle cx="217" cy="932.5" r="8.75" fill="#fff"/>
<circle cx="320.3" cy="889.7" r="7.5" fill="#fff"/>
<circle cx="367.5" cy="889.7" r="9" fill="#fff"/>
<line x1="305" y1="889.7" x2="344" y2="889.7"/>
<line x1="352.5" y1="889.7" x2="381.7" y2="889.7"/>
<circle cx="320.3" cy="974.7" r="7.5" fill="#fff"/>
<circle cx="367.5" cy="974.7" r="9" fill="#fff"/>
<line x1="305" y1="974.7" x2="344" y2="974.7"/>
<line x1="352.5" y1="974.7" x2="381.7" y2="974.7"/>
<line x1="158" y1="932.5" x2="182" y2="932.5"/>
<line x1="205" y1="932.5" x2="229" y2="932.5"/>
<line x1="283" y1="920" x2="283" y2="945"/>
<path d="M157,528 A16.7,16.7 0 1 1 188.6,528" stroke-width="1.3"/>
<path d="M160,528 A13.5,13.5 0 1 1 185.6,528" stroke-width="1.3"/>
<path d="M173.8,502 A14,14 0 0 1 201,508" stroke-width="1.3"/>
<path d="M175,505 A12,12 0 0 1 198,510" stroke-width="1.2"/>
<path d="M194.2,496 A10,10 0 0 1 212.8,487.2" stroke-width="1.3"/>
<path d="M196.5,498 A8,8 0 0 1 211.5,490" stroke-width="1.2"/>
<g transform="translate(199.5,515) rotate(20)"><rect x="-6" y="-8" width="12" height="16" fill="#fff" stroke-width="1.4"/><line x1="-6" y1="-2" x2="6" y2="-2" stroke-width="1.2"/><line x1="-6" y1="3" x2="6" y2="3" stroke-width="1.2"/></g>
<path d="M163,528 L163,516 Q166,512 170,514 L170,528 M172,528 L173,514 Q177,513 178,518 L176,528" stroke-width="1.6"/>
<line x1="170" y1="918" x2="170" y2="947"/>
<line x1="217" y1="922" x2="217" y2="945"/>
<line x1="320.3" y1="877.7" x2="320.3" y2="901.7"/>
<line x1="367.5" y1="877.7" x2="367.5" y2="901.7"/>
<line x1="320.3" y1="962.7" x2="320.3" y2="986.7"/>
<line x1="367.5" y1="962.7" x2="367.5" y2="986.7"/>
<path d="M344,433 C345,446 353,453 361,453 C366,453 369,450 371,447" stroke-width="3.3"/>
<path d="M344,433 C345,446 353,453 361,453 C366,453 369,450 371,447" stroke="#fff" stroke-width="1.0"/>
</g>
</svg>
</body></html>
